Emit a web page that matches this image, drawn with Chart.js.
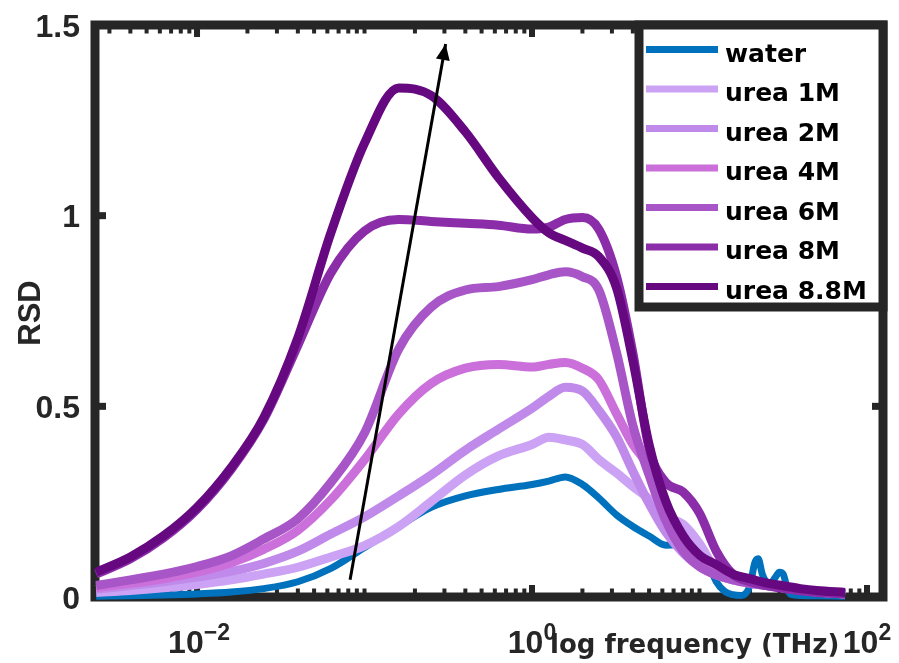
<!DOCTYPE html>
<html>
<head>
<meta charset="utf-8">
<script src="https://cdn.jsdelivr.net/npm/chart.js@4.4.1/dist/chart.umd.min.js"></script>
<style>
  html, body { margin: 0; padding: 0; background: #fff; }
  canvas { display: block; }
</style>
</head>
<body>
<canvas id="rsdChart" width="899" height="663"></canvas>
<script>
// frequency samples (THz) shared by the urea curves
const freq = [0.0025, 0.004, 0.0063, 0.01, 0.016, 0.025, 0.04, 0.063, 0.1, 0.16, 0.25, 0.4, 0.63, 1,
  1.26, 1.58, 2, 2.5, 3.2, 4, 5, 6.3, 8, 10, 12.6, 15.8, 20, 25, 32, 40, 50, 74];

const urea1 = [0.012, 0.017, 0.024, 0.033, 0.045, 0.06, 0.078, 0.105, 0.135, 0.185, 0.25, 0.32, 0.37, 0.40,
  0.419, 0.412, 0.40, 0.361, 0.325, 0.29, 0.257, 0.212, 0.19, 0.14, 0.07, 0.05, 0.04, 0.032, 0.025, 0.019, 0.014, 0.008];
const urea2 = [0.02, 0.03, 0.04, 0.052, 0.067, 0.088, 0.12, 0.165, 0.21, 0.265, 0.32, 0.385, 0.44, 0.495,
  0.526, 0.55, 0.54, 0.49, 0.42, 0.33, 0.245, 0.17, 0.115, 0.08, 0.058, 0.045, 0.036, 0.03, 0.024, 0.018, 0.013, 0.008];
const urea4 = [0.025, 0.036, 0.048, 0.065, 0.09, 0.125, 0.175, 0.255, 0.36, 0.48, 0.56, 0.60, 0.61, 0.603,
  0.61, 0.615, 0.60, 0.57, 0.48, 0.40, 0.34, 0.23, 0.15, 0.1, 0.07, 0.052, 0.04, 0.032, 0.025, 0.019, 0.014, 0.008];
const urea6 = [0.03, 0.045, 0.06, 0.08, 0.108, 0.152, 0.205, 0.3, 0.43, 0.65, 0.76, 0.805, 0.814, 0.832,
  0.845, 0.853, 0.84, 0.806, 0.64, 0.45, 0.32, 0.2, 0.12, 0.08, 0.058, 0.045, 0.036, 0.03, 0.024, 0.018, 0.014, 0.008];
const urea8 = [0.06, 0.1, 0.155, 0.23, 0.335, 0.465, 0.66, 0.85, 0.96, 0.99, 0.985, 0.98, 0.975, 0.965,
  0.97, 0.99, 0.995, 0.965, 0.84, 0.64, 0.39, 0.30, 0.275, 0.22, 0.12, 0.06, 0.04, 0.03, 0.022, 0.016, 0.012, 0.008];
const urea88 = [0.065, 0.105, 0.16, 0.235, 0.34, 0.47, 0.68, 0.955, 1.19, 1.335, 1.315, 1.22, 1.10, 0.995,
  0.955, 0.935, 0.915, 0.893, 0.81, 0.62, 0.40, 0.25, 0.16, 0.11, 0.085, 0.06, 0.048, 0.037, 0.029, 0.022, 0.017, 0.012];

// water is noisier, so it gets its own sampling
const waterFreq = [0.0025, 0.004, 0.0063, 0.01, 0.016, 0.025, 0.04, 0.063, 0.1, 0.16, 0.25, 0.4, 0.63, 1,
  1.26, 1.58, 2, 2.5, 3.2, 4, 5, 6.3, 8, 9.1, 10, 11.2, 12.6, 14.1, 15.8, 17.8, 20, 21.4, 22.4, 23.7, 25,
  26.6, 28.2, 30, 31.6, 33.5, 35.5, 40, 50, 74];
const water = [0.002, 0.003, 0.005, 0.008, 0.013, 0.022, 0.04, 0.075, 0.13, 0.185, 0.235, 0.265, 0.282, 0.295,
  0.304, 0.315, 0.295, 0.26, 0.215, 0.185, 0.16, 0.136, 0.138, 0.144, 0.125, 0.09, 0.04, 0.015, 0.006, 0.004, 0.03,
  0.09, 0.1, 0.06, 0.04, 0.035, 0.05, 0.065, 0.06, 0.02, 0.006, 0.004, 0.003, 0.002];

// arrow drawn across the curves (data coordinates)
const arrowFreq = [0.082, 0.305];
const arrowRSD = [0.045, 1.45];

const seriesLabels = ['water', 'urea 1M', 'urea 2M', 'urea 4M', 'urea 6M', 'urea 8M', 'urea 8.8M'];
const seriesColors = ['#0072BD', '#CBA2F4', '#C08AEA', '#CB6FDA', '#A856C7', '#8B2CA8', '#66087F'];

const xMajorTicks = [0.01, 1, 100];
const xTickExponents = ['\u22122', '0', '2'];
const yTicks = [0, 0.5, 1, 1.5];
const yTickLabels = ['0', '0.5', '1', '1.5'];

const xMin = 0.00246, xMax = 124.6;
const axisColor = '#262626';
const frameWidth = 9;

function series(label, xs, ys, color, width, order) {
    return {
        label: label,
        data: xs.map((f, i) => ({ x: f, y: ys[i] })),
        borderColor: color,
        backgroundColor: color,
        borderWidth: width,
        pointRadius: 0,
        cubicInterpolationMode: 'monotone',
        fill: false,
        order: order,
        clip: 8
    };
}

const matlabAxes = {
    id: 'matlabAxes',
    beforeDatasetsDraw(chart) {
        const { ctx, chartArea: a, scales: { x, y } } = chart;
        ctx.save();
        ctx.fillStyle = axisColor;

        // log x ticks, pointing inward on top and bottom
        for (let n = -3; n <= 2; n++) {
            for (let k = 1; k <= 9; k++) {
                const v = k * Math.pow(10, n);
                if (v < xMin || v > xMax) continue;
                const major = xMajorTicks.some(t => Math.abs(t - v) / t < 1e-6);
                const px = x.getPixelForValue(v);
                const len = major ? 12 : 8.5;
                const w = major ? 6 : 4;
                ctx.fillRect(px - w / 2, a.bottom - len, w, len);
                ctx.fillRect(px - w / 2, a.top, w, len);
            }
        }
        yTicks.forEach(v => {
            const py = y.getPixelForValue(v);
            ctx.fillRect(a.left, py - 3.5, 11, 7);
            ctx.fillRect(a.right - 11, py - 3.5, 11, 7);
        });

        ctx.strokeStyle = axisColor;
        ctx.lineWidth = frameWidth;
        ctx.lineJoin = 'miter';
        ctx.strokeRect(a.left, a.top, a.right - a.left, a.bottom - a.top);
        ctx.restore();
    },
    afterDatasetsDraw(chart) {
        const { ctx, scales: { x, y } } = chart;
        ctx.save();

        // arrow head at the top end of the arrow
        const x0 = x.getPixelForValue(arrowFreq[0]), y0 = y.getPixelForValue(arrowRSD[0]);
        const x1 = x.getPixelForValue(arrowFreq[1]), y1 = y.getPixelForValue(arrowRSD[1]);
        const ang = Math.atan2(y1 - y0, x1 - x0);
        const headLen = 16, headHalf = 7;
        ctx.fillStyle = '#000';
        ctx.beginPath();
        ctx.moveTo(x1, y1);
        ctx.lineTo(x1 - headLen * Math.cos(ang) + headHalf * Math.sin(ang),
                   y1 - headLen * Math.sin(ang) - headHalf * Math.cos(ang));
        ctx.lineTo(x1 - headLen * Math.cos(ang) - headHalf * Math.sin(ang),
                   y1 - headLen * Math.sin(ang) + headHalf * Math.cos(ang));
        ctx.closePath();
        ctx.fill();

        // legend box in the top right corner
        const box = { left: 639, top: 25, right: 883, bottom: 307 };
        ctx.fillStyle = '#fff';
        ctx.fillRect(box.left, box.top, box.right - box.left, box.bottom - box.top);
        ctx.strokeStyle = axisColor;
        ctx.lineWidth = frameWidth;
        ctx.lineJoin = 'miter';
        ctx.strokeRect(box.left, box.top, box.right - box.left, box.bottom - box.top);

        ctx.font = 'bold 25px "DejaVu Sans"';
        ctx.textBaseline = 'alphabetic';
        ctx.textAlign = 'left';
        seriesLabels.forEach((label, i) => {
            const rowY = 49.5 + i * 39.5;
            ctx.strokeStyle = seriesColors[i];
            ctx.lineWidth = 7;
            ctx.lineCap = 'butt';
            ctx.beginPath();
            ctx.moveTo(646, rowY);
            ctx.lineTo(718, rowY);
            ctx.stroke();
            ctx.fillStyle = '#000';
            ctx.fillText(label, 725, rowY + 12);
        });
        ctx.restore();
    },
    afterDraw(chart) {
        const { ctx, scales: { x, y } } = chart;
        ctx.save();
        ctx.fillStyle = axisColor;

        // y tick labels
        ctx.font = 'bold 32px "Liberation Sans"';
        ctx.textAlign = 'right';
        ctx.textBaseline = 'alphabetic';
        yTicks.forEach((v, i) => {
            ctx.fillText(yTickLabels[i], 80, y.getPixelForValue(v) + 11.5);
        });

        // x tick labels as 10 with a superscript exponent
        xMajorTicks.forEach((v, i) => {
            const px = x.getPixelForValue(v);
            ctx.font = 'bold 32px "Liberation Sans"';
            const baseW = ctx.measureText('10').width;
            ctx.font = 'bold 23px "Liberation Sans"';
            const expW = ctx.measureText(xTickExponents[i]).width;
            const start = px - (baseW + expW) / 2 + (i === 0 ? 2 : 0);
            ctx.textAlign = 'left';
            ctx.font = 'bold 32px "Liberation Sans"';
            ctx.fillText('10', start, 653);
            ctx.font = 'bold 23px "Liberation Sans"';
            ctx.fillText(xTickExponents[i], start + baseW, 640);
        });

        // axis titles
        ctx.font = 'bold 26px "DejaVu Sans"';
        ctx.textAlign = 'left';
        ctx.fillText('log frequency (THz)', 550, 653);

        ctx.save();
        ctx.translate(40, 313);
        ctx.rotate(-Math.PI / 2);
        ctx.font = 'bold 31px "Liberation Sans"';
        ctx.textAlign = 'center';
        ctx.fillText('RSD', 0, 0);
        ctx.restore();

        ctx.restore();
    }
};

function createChart() {
    const ureaSets = [urea1, urea2, urea4, urea6, urea8, urea88];
    const datasets = [series(seriesLabels[0], waterFreq, water, seriesColors[0], 7, 7)];
    ureaSets.forEach((vals, i) => {
        datasets.push(series(seriesLabels[i + 1], freq, vals, seriesColors[i + 1], 9, 6 - i));
    });
    datasets.push({
        label: 'arrow',
        data: arrowFreq.map((f, i) => ({ x: f, y: arrowRSD[i] })),
        borderColor: '#000',
        borderWidth: 3,
        pointRadius: 0,
        tension: 0,
        fill: false,
        order: 0,
        clip: false
    });

    const ctx = document.getElementById('rsdChart').getContext('2d');
    return new Chart(ctx, {
        type: 'line',
        data: { datasets },
        options: {
            responsive: false,
            animation: false,
            layout: { padding: { left: 95, top: 25, right: 16, bottom: 66 } },
            scales: {
                x: { type: 'logarithmic', min: xMin, max: xMax, display: false },
                y: { type: 'linear', min: 0, max: 1.5, display: false }
            },
            plugins: {
                legend: { display: false },
                tooltip: { enabled: false }
            }
        },
        plugins: [matlabAxes]
    });
}

createChart();
</script>
</body>
</html>
